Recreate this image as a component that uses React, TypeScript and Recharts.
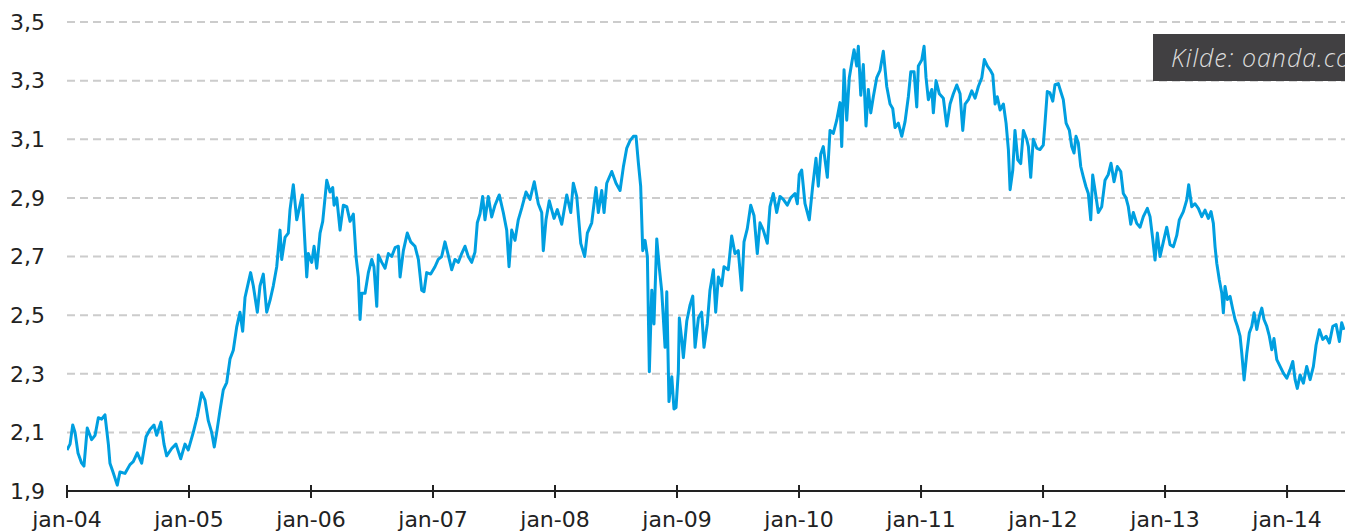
import { LineChart, Line, XAxis, YAxis, CartesianGrid } from 'recharts';

// years since jan-04 (x position of each reading)
const yearsSince2004 = [
  0.000, 0.025, 0.047, 0.066, 0.090, 0.120, 0.139, 0.166, 0.202, 0.230, 0.257, 0.284, 0.311, 0.339, 0.352, 0.377,
  0.412, 0.434, 0.475, 0.516, 0.543, 0.576, 0.612, 0.648, 0.680, 0.713, 0.735, 0.770, 0.795, 0.817, 0.858, 0.893,
  0.932, 0.967, 0.994, 1.035, 1.068, 1.104, 1.131, 1.158, 1.186, 1.207, 1.227, 1.254, 1.281, 1.309, 1.336, 1.363,
  1.391, 1.418, 1.440, 1.459, 1.486, 1.505, 1.527, 1.560, 1.582, 1.609, 1.637, 1.664, 1.691, 1.719, 1.746, 1.760,
  1.787, 1.814, 1.828, 1.855, 1.883, 1.910, 1.929, 1.965, 1.978, 2.006, 2.025, 2.047, 2.074, 2.096, 2.129, 2.156,
  2.178, 2.189, 2.211, 2.238, 2.265, 2.293, 2.320, 2.347, 2.369, 2.388, 2.402, 2.416, 2.443, 2.470, 2.498, 2.516,
  2.539, 2.552, 2.580, 2.607, 2.634, 2.661, 2.689, 2.716, 2.730, 2.757, 2.789, 2.817, 2.852, 2.880, 2.907, 2.926,
  2.948, 2.981, 3.016, 3.043, 3.071, 3.098, 3.125, 3.153, 3.180, 3.207, 3.235, 3.262, 3.289, 3.317, 3.344, 3.363,
  3.385, 3.407, 3.426, 3.453, 3.481, 3.508, 3.543, 3.576, 3.604, 3.623, 3.645, 3.672, 3.699, 3.727, 3.762, 3.795,
  3.830, 3.863, 3.891, 3.904, 3.926, 3.953, 3.992, 4.019, 4.055, 4.096, 4.129, 4.150, 4.178, 4.211, 4.243, 4.265,
  4.301, 4.336, 4.355, 4.383, 4.402, 4.424, 4.465, 4.500, 4.533, 4.560, 4.588, 4.615, 4.642, 4.664, 4.683, 4.702,
  4.719, 4.738, 4.757, 4.773, 4.793, 4.811, 4.834, 4.855, 4.875, 4.902, 4.916, 4.934, 4.957, 4.975, 4.992, 5.011,
  5.019, 5.039, 5.052, 5.080, 5.107, 5.129, 5.148, 5.175, 5.202, 5.221, 5.248, 5.270, 5.298, 5.317, 5.339, 5.366,
  5.385, 5.420, 5.448, 5.475, 5.502, 5.530, 5.549, 5.576, 5.604, 5.631, 5.658, 5.680, 5.707, 5.740, 5.762, 5.789,
  5.817, 5.844, 5.871, 5.904, 5.932, 5.967, 5.986, 6.002, 6.022, 6.049, 6.084, 6.112, 6.139, 6.158, 6.178, 6.199,
  6.232, 6.254, 6.281, 6.309, 6.336, 6.350, 6.369, 6.391, 6.412, 6.432, 6.451, 6.473, 6.486, 6.506, 6.527, 6.549,
  6.568, 6.588, 6.609, 6.637, 6.664, 6.691, 6.719, 6.746, 6.768, 6.787, 6.814, 6.842, 6.869, 6.896, 6.916, 6.943,
  6.965, 6.978, 7.006, 7.025, 7.041, 7.060, 7.088, 7.101, 7.123, 7.150, 7.183, 7.211, 7.238, 7.265, 7.293, 7.320,
  7.342, 7.361, 7.388, 7.416, 7.443, 7.470, 7.498, 7.519, 7.543, 7.566, 7.588, 7.607, 7.625, 7.648, 7.675, 7.697,
  7.716, 7.730, 7.752, 7.770, 7.793, 7.817, 7.839, 7.866, 7.880, 7.899, 7.920, 7.948, 7.975, 8.002, 8.016, 8.035,
  8.057, 8.080, 8.098, 8.125, 8.145, 8.166, 8.189, 8.216, 8.235, 8.254, 8.270, 8.289, 8.309, 8.330, 8.352, 8.371,
  8.391, 8.407, 8.426, 8.453, 8.481, 8.508, 8.535, 8.557, 8.582, 8.609, 8.637, 8.658, 8.680, 8.699, 8.719, 8.740,
  8.768, 8.795, 8.822, 8.855, 8.877, 8.899, 8.918, 8.937, 8.959, 8.986, 9.014, 9.041, 9.068, 9.096, 9.117, 9.150,
  9.178, 9.194, 9.219, 9.246, 9.273, 9.301, 9.328, 9.355, 9.377, 9.396, 9.410, 9.424, 9.445, 9.465, 9.478, 9.492,
  9.511, 9.533, 9.555, 9.574, 9.593, 9.615, 9.629, 9.648, 9.670, 9.691, 9.711, 9.730, 9.752, 9.773, 9.793, 9.811,
  9.834, 9.855, 9.875, 9.893, 9.916, 9.943, 9.970, 9.998, 10.025, 10.047, 10.066, 10.084, 10.107, 10.134, 10.161, 10.189,
  10.216, 10.238, 10.265, 10.293, 10.320, 10.347, 10.375, 10.402, 10.429, 10.448, 10.467,
];

// exchange rate
const rates = [
  2.04, 2.06, 2.125, 2.10, 2.03, 1.995, 1.985, 2.115, 2.075, 2.09, 2.15, 2.145, 2.16, 2.06, 1.995, 1.965,
  1.92, 1.965, 1.96, 1.99, 2.00, 2.03, 1.995, 2.085, 2.11, 2.125, 2.09, 2.135, 2.06, 2.02, 2.045, 2.06,
  2.01, 2.06, 2.04, 2.10, 2.155, 2.235, 2.21, 2.14, 2.10, 2.05, 2.10, 2.175, 2.245, 2.27, 2.35, 2.38,
  2.46, 2.51, 2.445, 2.56, 2.61, 2.645, 2.60, 2.51, 2.60, 2.64, 2.51, 2.55, 2.60, 2.665, 2.79, 2.69,
  2.765, 2.78, 2.86, 2.945, 2.825, 2.875, 2.91, 2.63, 2.71, 2.68, 2.735, 2.66, 2.78, 2.82, 2.96, 2.92,
  2.935, 2.875, 2.90, 2.79, 2.875, 2.87, 2.82, 2.845, 2.70, 2.63, 2.485, 2.575, 2.575, 2.645, 2.69, 2.665,
  2.53, 2.705, 2.68, 2.66, 2.71, 2.70, 2.73, 2.735, 2.63, 2.72, 2.78, 2.75, 2.735, 2.69, 2.585, 2.58,
  2.645, 2.64, 2.665, 2.69, 2.70, 2.75, 2.705, 2.655, 2.69, 2.68, 2.71, 2.735, 2.70, 2.68, 2.715, 2.815,
  2.845, 2.905, 2.825, 2.905, 2.835, 2.875, 2.91, 2.85, 2.79, 2.665, 2.79, 2.755, 2.825, 2.865, 2.92, 2.895,
  2.955, 2.88, 2.85, 2.72, 2.825, 2.89, 2.83, 2.86, 2.81, 2.91, 2.85, 2.95, 2.905, 2.745, 2.70, 2.78,
  2.815, 2.935, 2.85, 2.925, 2.85, 2.95, 2.99, 2.95, 2.925, 3.005, 3.07, 3.095, 3.11, 3.11, 3.02, 2.94,
  2.72, 2.755, 2.70, 2.307, 2.585, 2.47, 2.76, 2.66, 2.58, 2.39, 2.58, 2.205, 2.29, 2.18, 2.185, 2.31,
  2.49, 2.415, 2.355, 2.48, 2.535, 2.565, 2.39, 2.49, 2.51, 2.39, 2.47, 2.585, 2.655, 2.51, 2.63, 2.60,
  2.665, 2.655, 2.77, 2.71, 2.72, 2.585, 2.75, 2.795, 2.875, 2.84, 2.71, 2.815, 2.79, 2.745, 2.87, 2.915,
  2.85, 2.905, 2.895, 2.875, 2.90, 2.915, 2.88, 2.98, 2.995, 2.88, 2.825, 2.94, 3.035, 2.94, 3.05, 3.075,
  2.97, 3.13, 3.12, 3.165, 3.225, 3.075, 3.337, 3.165, 3.31, 3.36, 3.405, 3.35, 3.417, 3.25, 3.355, 3.145,
  3.27, 3.19, 3.245, 3.31, 3.335, 3.40, 3.28, 3.22, 3.205, 3.14, 3.155, 3.11, 3.16, 3.245, 3.33, 3.33,
  3.21, 3.35, 3.37, 3.417, 3.31, 3.235, 3.27, 3.19, 3.30, 3.255, 3.24, 3.145, 3.22, 3.255, 3.285, 3.255,
  3.13, 3.22, 3.235, 3.265, 3.24, 3.28, 3.31, 3.372, 3.35, 3.337, 3.32, 3.22, 3.245, 3.20, 3.22, 3.155,
  3.065, 2.928, 2.995, 3.13, 3.03, 3.017, 3.13, 3.10, 3.075, 2.97, 3.10, 3.07, 3.065, 3.08, 3.155, 3.263,
  3.258, 3.23, 3.286, 3.29, 3.263, 3.235, 3.155, 3.13, 3.075, 3.053, 3.11, 3.087, 3.007, 2.972, 2.938, 2.915,
  2.825, 2.978, 2.927, 2.85, 2.87, 2.96, 2.98, 3.018, 2.955, 3.007, 2.99, 2.915, 2.90, 2.87, 2.81, 2.85,
  2.813, 2.80, 2.836, 2.864, 2.836, 2.76, 2.688, 2.78, 2.70, 2.75, 2.80, 2.74, 2.733, 2.772, 2.825, 2.853,
  2.893, 2.945, 2.87, 2.88, 2.864, 2.836, 2.858, 2.83, 2.853, 2.813, 2.733, 2.677, 2.62, 2.575, 2.508, 2.598,
  2.553, 2.564, 2.52, 2.485, 2.462, 2.428, 2.37, 2.279, 2.37, 2.44, 2.462, 2.508, 2.451, 2.496, 2.524, 2.485,
  2.462, 2.428, 2.382, 2.42, 2.348, 2.325, 2.302, 2.285, 2.314, 2.342, 2.28, 2.25, 2.296, 2.268, 2.325, 2.28,
  2.325, 2.398, 2.45, 2.417, 2.428, 2.405, 2.462, 2.468, 2.41, 2.474, 2.45,
];

const xTicks = [0, 1, 2, 3, 4, 5, 6, 7, 8, 9, 10];
const xTickLabels = ['jan-04', 'jan-05', 'jan-06', 'jan-07', 'jan-08', 'jan-09', 'jan-10', 'jan-11', 'jan-12', 'jan-13', 'jan-14'];
const yTicks = [1.9, 2.1, 2.3, 2.5, 2.7, 2.9, 3.1, 3.3, 3.5];

const data = yearsSince2004.map((t, i) => ({ t, rate: rates[i] }));

const FONT = '"DejaVu Sans", Verdana, sans-serif';
const INK = '#222';

const XTick = (props: any) => {
  const { x, y, payload } = props;
  return (
    <g>
      <line x1={x} x2={x} y1={y - 6} y2={y + 7} stroke={INK} strokeWidth={2} />
      <text x={x} y={y + 36} textAnchor="middle" fill={INK} fontSize={22} fontFamily={FONT}>
        {xTickLabels[payload.value]}
      </text>
    </g>
  );
};

const App = () => {
  return (
    <div style={{ position: 'fixed', left: 0, top: 0, width: 1345, height: 531, background: '#fff', overflow: 'hidden' }}>
      <LineChart width={1345} height={531} data={data} margin={{ top: 22, right: 0, bottom: 0, left: 0 }}>
        <CartesianGrid vertical={false} stroke="#cccccc" strokeWidth={2} strokeDasharray="8 5" />
        <XAxis
          dataKey="t"
          type="number"
          domain={[0, 10.475]}
          ticks={xTicks}
          interval={0}
          allowDataOverflow
          height={40}
          tickSize={0}
          tickMargin={0}
          tickLine={false}
          axisLine={{ stroke: INK, strokeWidth: 2 }}
          tick={<XTick />}
        />
        <YAxis
          type="number"
          domain={[1.9, 3.5]}
          ticks={yTicks}
          interval={0}
          width={67}
          axisLine={false}
          tickLine={false}
          tickSize={6}
          tickMargin={16}
          tickFormatter={(v: number) => v.toFixed(1).replace('.', ',')}
          tick={{ fill: INK, fontSize: 22, fontFamily: FONT }}
        />
        <Line
          type="linear"
          dataKey="rate"
          stroke="#009fe0"
          strokeWidth={3}
          strokeLinejoin="round"
          dot={false}
          isAnimationActive={false}
        />
      </LineChart>
      <div
        style={{
          position: 'absolute',
          left: 1153,
          top: 34,
          width: 260,
          height: 47,
          lineHeight: '47px',
          background: '#414042',
          color: '#dcdcdc',
          fontFamily: '"Open Sans", sans-serif',
          fontStyle: 'italic',
          fontWeight: 300,
          fontSize: 25,
          letterSpacing: 1,
          paddingLeft: 18,
          whiteSpace: 'nowrap',
          boxSizing: 'border-box',
        }}
      >
        Kilde: oanda.com
      </div>
    </div>
  );
};

export default App;
